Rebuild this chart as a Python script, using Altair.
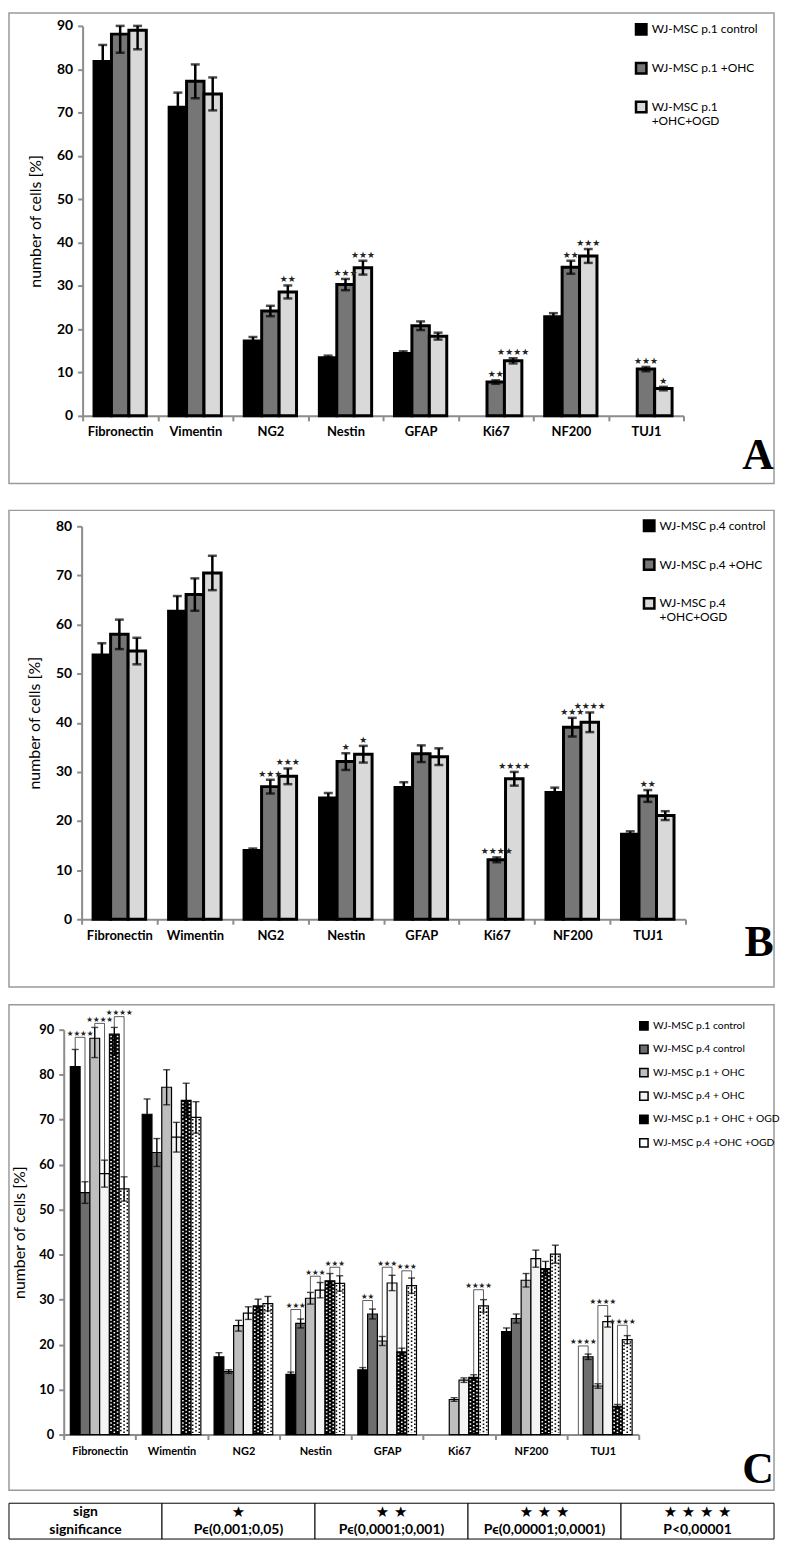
import json
import pandas as pd
import altair as alt

# ---------------- data ----------------
cats_A = ["Fibronectin", "Vimentin", "NG2", "Nestin", "GFAP", "Ki67", "NF200", "TUJ1"]
cats_BC = ["Fibronectin", "Wimentin", "NG2", "Nestin", "GFAP", "Ki67", "NF200", "TUJ1"]

# passage 1
p1_control = [81.8, 71.2, 17.3, 13.4, 14.4, 0.0, 22.9, 0.0]
p1_control_err = [3.8, 3.4, 0.9, 0.5, 0.5, 0.0, 0.8, 0.0]
p1_ohc = [88.1, 77.2, 24.2, 30.3, 20.8, 7.8, 34.3, 10.8]
p1_ohc_err = [4.3, 3.9, 1.2, 1.3, 1.0, 0.4, 1.5, 0.5]
p1_ogd = [89.0, 74.3, 28.6, 34.2, 18.4, 12.7, 36.9, 6.3]
p1_ogd_err = [4.4, 3.8, 1.5, 1.6, 0.8, 0.6, 1.6, 0.4]

# passage 4
p4_control = [53.8, 62.7, 14.0, 24.7, 26.8, 0.0, 25.8, 17.3]
p4_control_err = [2.4, 3.1, 0.4, 1.0, 1.1, 0.0, 1.0, 0.6]
p4_ohc = [58.0, 66.1, 27.0, 32.1, 33.7, 12.1, 39.1, 25.1]
p4_ohc_err = [3.0, 3.3, 1.4, 1.7, 1.7, 0.5, 1.9, 1.2]
p4_ogd = [54.6, 70.5, 29.1, 33.6, 33.1, 28.6, 40.1, 21.1]
p4_ogd_err = [2.7, 3.5, 1.6, 1.7, 1.7, 1.4, 2.0, 0.9]

# number of significance stars
sig_none = [0, 0, 0, 0, 0, 0, 0, 0]
sig_A_ohc = [0, 0, 0, 3, 0, 2, 2, 3]
sig_A_ogd = [0, 0, 2, 3, 0, 4, 3, 1]
sig_B_ohc = [0, 0, 3, 1, 0, 4, 3, 2]
sig_B_ogd = [0, 0, 3, 1, 0, 4, 4, 0]

# panel C comparison brackets (p.1 vs p.4)
br_cat = [0, 0, 0, 3, 3, 3, 4, 4, 4, 5, 7, 7, 7]
br_pair = [0, 1, 2, 0, 1, 2, 0, 1, 2, 2, 0, 1, 2]
br_h = [88.3, 91.4, 92.9, 27.8, 35.2, 37.2, 29.8, 37.2, 36.4, 32.2, 19.7, 28.7, 24.3]
br_n = [4, 4, 4, 3, 3, 3, 2, 3, 3, 4, 4, 4, 4]

names_A = ["WJ-MSC p.1 control", "WJ-MSC p.1 +OHC", "WJ-MSC p.1|+OHC+OGD"]
names_B = ["WJ-MSC p.4 control", "WJ-MSC p.4 +OHC", "WJ-MSC p.4|+OHC+OGD"]
names_C = ["WJ-MSC p.1 control", "WJ-MSC p.4 control", "WJ-MSC p.1 + OHC",
           "WJ-MSC p.4 + OHC", "WJ-MSC p.1 + OHC + OGD", "WJ-MSC p.4 +OHC +OGD"]

table_row1 = ["sign", "\u2605", "\u2605 \u2605", "\u2605 \u2605 \u2605", "\u2605 \u2605 \u2605 \u2605"]
table_row2 = ["significance", "P\u03f5(0,001;0,05)", "P\u03f5(0,0001;0,001)",
              "P\u03f5(0,00001;0,0001)", "P<0,00001"]

STAR = "\u2605"

colors_AB = ["#000000", "#767676", "#d9d9d9"]
colors_C = ["#000000", "#6e6e6e", "#bebebe", "#f4f4f4", "#000000", "#ffffff"]


def long_df(vals, errs, sigs, names):
    rows = []
    for si in range(len(vals)):
        for ci in range(len(vals[si])):
            rows.append(dict(ci=ci, si=si, series=names[si], v=vals[si][ci],
                             e=errs[si][ci], stars=STAR * sigs[si][ci]))
    return pd.DataFrame(rows)


df_A = long_df([p1_control, p1_ohc, p1_ogd], [p1_control_err, p1_ohc_err, p1_ogd_err],
               [sig_none, sig_A_ohc, sig_A_ogd], names_A)
df_B = long_df([p4_control, p4_ohc, p4_ogd], [p4_control_err, p4_ohc_err, p4_ogd_err],
               [sig_none, sig_B_ohc, sig_B_ogd], names_B)
c_vals = [p1_control, p4_control, p1_ohc, p4_ohc, p1_ogd, p4_ogd]
c_errs = [p1_control_err, p4_control_err, p1_ohc_err, p4_ohc_err, p1_ogd_err, p4_ogd_err]
df_C = long_df(c_vals, c_errs, [sig_none] * 6, names_C)

C_CAP = 90.5
br_rows = []
for c, p, h, n in zip(br_cat, br_pair, br_h, br_n):
    l, r = 2 * p, 2 * p + 1
    br_rows.append(dict(cat=c, pair=p, h=h, stars=STAR * n,
                        yl=min(c_vals[l][c] + c_errs[l][c], C_CAP),
                        yr=min(c_vals[r][c] + c_errs[r][c], C_CAP)))
df_br = pd.DataFrame(br_rows)

one = pd.DataFrame({"k": [0]})


def panel(df, cats, names, colors, st):
    n = len(names)
    bw = st["bw"]
    r0, r1 = st["xrange"]
    band = (r1 - r0) / 8.0
    xs = alt.Scale(domain=[0, 8], nice=False, zero=False, range=[r0, r1])
    ys = alt.Scale(domain=[0, st["ymax"]], nice=False)
    xaxis = alt.Axis(values=list(range(9)),
                     labelExpr="datum.value < 8 ? " + json.dumps(cats) + "[datum.value] : ''",
                     labelOffset=band / 2, labelFlush=False, labelOverlap=False,
                     title=None, grid=False, domainColor="#8c8c8c", domainWidth=2,
                     tickColor="#8c8c8c", tickWidth=2, tickSize=5,
                     labelFont="Lato", labelFontWeight="bold", labelFontSize=st["cat_fs"],
                     labelColor="black", labelPadding=st["xlab_pad"])
    yaxis = alt.Axis(values=list(range(0, st["ymax"] + 1, 10)), title="number of cells [%]",
                     offset=-r0,
                     titleFont="Lato", titleFontWeight="normal", titleFontSize=st["title_fs"],
                     titleColor="black", titlePadding=st["title_pad"],
                     labelFont="Lato", labelFontWeight="bold", labelFontSize=st["tick_fs"],
                     labelColor="black", labelPadding=5, grid=False,
                     domainColor="#8c8c8c", domainWidth=2, tickColor="#8c8c8c",
                     tickWidth=2, tickSize=5)

    def X(f):
        return alt.X(f, type="quantitative", scale=xs, axis=xaxis)

    def Y(f):
        return alt.Y(f, type="quantitative", scale=ys, axis=yaxis)

    base = alt.Chart(df).transform_filter("datum.v > 0").transform_calculate(
        xc=f"datum.ci + 0.5 + (datum.si - {(n - 1) / 2}) * {bw}"
    ).transform_calculate(
        xa=f"datum.xc - {bw / 2}", xb=f"datum.xc + {bw / 2}", z0="0",
        lo="max(datum.v - datum.e, 0)", hi=f"min(datum.v + datum.e, {st['cap']})"
    )

    legend = alt.Legend(orient="none", legendX=st["leg_x"], legendY=st["leg_y"], title=None,
                        labelFont="Lato", labelFontSize=st["leg_fs"], labelColor="black",
                        symbolType="square", symbolSize=st["sym_size"],
                        symbolStrokeColor="black", symbolStrokeWidth=st["sym_sw"],
                        rowPadding=st["row_pad"], padding=0, labelLimit=300,
                        labelExpr="split(datum.label, '|')")

    bars = base.mark_bar(stroke="black", strokeWidth=st["bar_sw"]).encode(
        x=X("xa"), x2="xb", y=Y("v"), y2="z0",
        fill=alt.Fill("series:N", scale=alt.Scale(domain=names, range=colors), legend=legend),
    )
    layers = [bars]

    if st.get("dots"):
        dsc = alt.Scale(domain=[names[4], names[5]], range=["white", "black"])
        dbase = base.transform_filter("datum.si >= 4").transform_calculate(
            top="datum.v - 0.35", bot="0.35",
            d1=f"datum.xc - {bw / 3}", d2=f"datum.xc + {bw / 3}")
        outer = dbase.transform_fold(["d1", "d2"], as_=["k", "xd"]).mark_rule(
            strokeWidth=1.6, strokeDash=[1.5, 2.2]).encode(
            x=X("xd"), y=Y("top"), y2="bot",
            stroke=alt.Stroke("series:N", scale=dsc, legend=None))
        mid = dbase.mark_rule(strokeWidth=1.6, strokeDash=[1.5, 2.2], strokeDashOffset=1.85).encode(
            x=X("xc"), y=Y("top"), y2="bot",
            stroke=alt.Stroke("series:N", scale=dsc, legend=None))
        layers += [outer, mid]

    err = base.mark_rule(color="black", strokeWidth=st["eb_sw"]).encode(
        x=X("xc"), y=Y("lo"), y2="hi")
    cap_hi = base.mark_tick(orient="horizontal", size=st["cap_w"], thickness=st["eb_sw"],
                            color="black").encode(x=X("xc"), y=Y("hi"))
    cap_lo = base.mark_tick(orient="horizontal", size=st["cap_w"], thickness=st["eb_sw"],
                            color="black").encode(x=X("xc"), y=Y("lo"))
    stars = base.transform_filter("datum.stars != ''").mark_text(
        font="DejaVu Sans", fontSize=st["star_fs"], baseline="alphabetic", dy=-3,
        color="#222222").encode(x=X("xc"), y=Y("hi"), text="stars:N")
    layers += [err, cap_hi, cap_lo, stars]

    if st.get("brackets") is not None:
        bdf = st["brackets"]
        bb = alt.Chart(bdf).transform_calculate(
            xl=f"datum.cat + 0.5 + (2 * datum.pair - 2.5) * {bw}"
        ).transform_calculate(xr=f"datum.xl + {bw}", xm=f"datum.xl + {bw / 2}")
        legl = bb.mark_rule(color="#333333", strokeWidth=0.8).encode(x=X("xl"), y=Y("yl"), y2="h")
        legr = bb.mark_rule(color="#333333", strokeWidth=0.8).encode(x=X("xr"), y=Y("yr"), y2="h")
        topl = bb.mark_rule(color="#333333", strokeWidth=0.8).encode(x=X("xl"), x2="xr", y=Y("h"))
        btxt = bb.mark_text(font="DejaVu Sans", fontSize=7.5, baseline="alphabetic", dy=-1.5,
                            color="#222222").encode(x=X("xm"), y=Y("h"), text="stars:N")
        layers += [legl, legr, topl, btxt]

    fx1, fx2, fy1, fy2 = st["frame"]
    frame = alt.Chart(one).mark_rect(filled=False, stroke="#9a9a9a", strokeWidth=1.5).encode(
        x=alt.value(fx1), x2=alt.value(fx2), y=alt.value(fy1), y2=alt.value(fy2))
    lt, lx, ly, lfs = st["letter"]
    letter = alt.Chart(one).mark_text(text=lt, font="Liberation Serif", fontWeight="bold",
                                      fontSize=lfs, align="center", baseline="alphabetic",
                                      color="black").encode(x=alt.value(lx), y=alt.value(ly))
    layers = [frame] + layers + [letter]
    return alt.layer(*layers).properties(width=st["width"], height=st["height"])


# all panels share a common left origin; everything stays inside 772 px of width
st_A = dict(width=623, height=392, xrange=(19, 623), ymax=90, cap=90, bw=0.232, bar_sw=3,
            eb_sw=2.5, cap_w=9, tick_fs=14, cat_fs=13, xlab_pad=5, title_fs=16, title_pad=13,
            star_fs=9, leg_x=574, leg_y=-3, leg_fs=12, sym_size=110, sym_sw=2.5, row_pad=18,
            frame=(-55, 714, -13, 460), letter=("A", 698, 445, 44))
st_B = dict(width=625, height=395, xrange=(18, 625), ymax=80, cap=80, bw=0.232, bar_sw=3,
            eb_sw=2.5, cap_w=9, tick_fs=14, cat_fs=13, xlab_pad=5, title_fs=16, title_pad=13,
            star_fs=9, leg_x=582, leg_y=-7, leg_fs=12, sym_size=110, sym_sw=2.5, row_pad=18,
            frame=(-55, 714, -16, 463), letter=("B", 699, 432, 44))
st_C = dict(width=578, height=407, xrange=(0, 578), ymax=90, cap=C_CAP, bw=0.136, bar_sw=1.2,
            eb_sw=1.4, cap_w=7, tick_fs=13, cat_fs=11, xlab_pad=6, title_fs=16, title_pad=11,
            star_fs=7.5, leg_x=578, leg_y=-9, leg_fs=10.4, sym_size=70, sym_sw=1.5, row_pad=8.5,
            frame=(-55, 714, -25, 463), letter=("C", 698, 456, 44),
            dots=True, brackets=df_br)

pA = panel(df_A, cats_A, names_A, colors_AB, st_A)
pB = panel(df_B, cats_BC, names_B, colors_AB, st_B)
pC = panel(df_C, cats_BC, names_C, colors_C, st_C)

# ---------------- significance table (placed below panel C) ----------------
TAB_TOP, TAB_BOT = 476, 512
tab_rows = []
for ci, t in enumerate(table_row1):
    tab_rows.append(dict(col=ci, row=0, t=t, star=ci > 0))
for ci, t in enumerate(table_row2):
    tab_rows.append(dict(col=ci, row=1, t=t, star=False))
df_tab = pd.DataFrame(tab_rows)
df_cols = pd.DataFrame({"col": list(range(5))})

tx = alt.Scale(paddingInner=0, paddingOuter=0, domain=list(range(5)), range=[-55, 714])
ty = alt.Scale(paddingInner=0, paddingOuter=0, domain=[0, 1], range=[TAB_TOP, TAB_BOT])
cells = alt.Chart(df_cols).mark_rect(fill="white", stroke="black", strokeWidth=1).encode(
    x=alt.X("col:O", scale=tx, axis=None), y=alt.value(TAB_TOP), y2=alt.value(TAB_BOT))
ttext = alt.Chart(df_tab).transform_filter("!datum.star").mark_text(
    font="Lato", fontWeight="bold", fontSize=14, color="black").encode(
    x=alt.X("col:O", scale=tx, axis=None), y=alt.Y("row:O", scale=ty, axis=None), text="t:N")
tstar = alt.Chart(df_tab).transform_filter("datum.star").mark_text(
    font="DejaVu Sans", fontSize=15, color="black").encode(
    x=alt.X("col:O", scale=tx, axis=None), y=alt.Y("row:O", scale=ty, axis=None), text="t:N")
table = alt.layer(cells, ttext, tstar)

pC_tab = alt.layer(pC, table).resolve_scale(x="independent", y="independent")

chart = alt.vconcat(pA, pB, pC_tab, spacing=111, bounds="flush").resolve_scale(
    fill="independent", stroke="independent", x="independent", y="independent"
).properties(padding=0).configure_view(strokeWidth=0)

chart.save("out.html", embed_options={"renderer": "svg", "actions": False})
